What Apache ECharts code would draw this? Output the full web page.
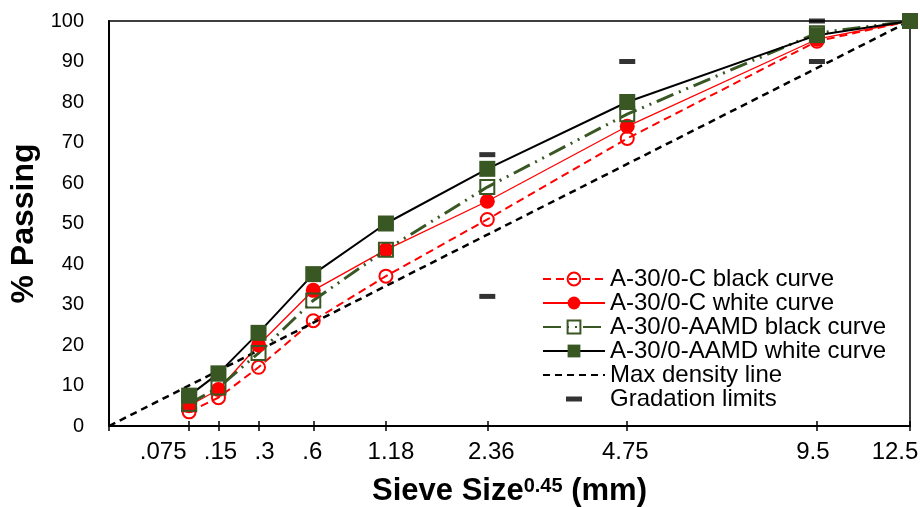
<!DOCTYPE html>
<html><head><meta charset="utf-8">
<script src="https://cdn.jsdelivr.net/npm/echarts@6/dist/echarts.min.js"></script>
<style>html,body{margin:0;padding:0;background:#fff}#c{width:920px;height:507px}</style>
</head><body><div id="c"></div>
<script>
// ---- data ----
const sieveSizes = [0.075, 0.15, 0.3, 0.6, 1.18, 2.36, 4.75, 9.5, 12.5];
const sieveLabels = ['.075', '.15', '.3', '.6', '1.18', '2.36', '4.75', '9.5', '12.5'];
const cBlack    = [3.5, 7, 14.5, 26, 37, 51, 71, 95, 100];
const cWhite    = [5, 9, 20, 33.5, 43.5, 55.5, 74, 95.5, 100];
const aamdBlack = [5.5, 9.5, 18, 31, 43.5, 59, 77, 97, 100];
const aamdWhite = [7.5, 13, 23, 37.5, 50, 63.5, 80, 96.5, 100];
const maxDensitySizes  = [0, 12.5];
const maxDensityValues = [0, 100];
const limitSizes  = [0.075, 0.075, 2.36, 2.36, 4.75, 9.5, 9.5, 12.5];
const limitValues = [8, 4, 67, 32, 90, 100, 90, 100];
const seriesNames = ['A-30/0-C black curve', 'A-30/0-C white curve', 'A-30/0-AAMD black curve',
  'A-30/0-AAMD white curve', 'Max density line', 'Gradation limits'];

// ---- styling ----
const EXP = 0.45;
const labelShift = [-26, 2, 6, -1, 5, 4, -2, -4, -15];
const RED = '#FF0000', GREEN = '#385723';
const FONT = "'Liberation Sans',Arial,sans-serif";
const tx = s => Math.pow(s, EXP);
const xs = sieveSizes.map(tx);
const xMax = tx(sieveSizes[sieveSizes.length - 1]);
const pair = (sizes, vals) => sizes.map((s, i) => [tx(s), vals[i]]);

const rich = {};
labelShift.forEach((d, i) => {
  rich['s' + i] = {
    fontSize: 24, fontFamily: FONT,
    color: '#000', padding: d > 0 ? [0, 0, 0, 2 * d] : [0, -2 * d, 0, 0]
  };
});

const chart = echarts.init(document.getElementById('c'), null, {renderer: 'canvas'});
const option = {
  animation: false,
  backgroundColor: '#fff',
  grid: {left: 109, right: 10, top: 21, bottom: 81, containLabel: false, outerBoundsMode: 'none',
    show: true, borderColor: '#000', borderWidth: 1.5, backgroundColor: 'transparent'},
  legend: {
    orient: 'vertical', left: 537, top: 262, itemWidth: 62, itemHeight: 16, itemGap: 0,
    selectedMode: false,
    textStyle: {fontSize: 24, lineHeight: 24, color: '#000', fontFamily: FONT},
    data: [
      {name: seriesNames[0]}, {name: seriesNames[1]}, {name: seriesNames[2]}, {name: seriesNames[3]},
      {name: seriesNames[4]},
      {name: seriesNames[5], icon: 'path://M0,0L0.01,0M62,16L61.99,16M23,5.5L39,5.5L39,10.5L23,10.5Z'}
    ]
  },
  xAxis: [{
    type: 'value', min: 0, max: xMax, position: 'bottom',
    axisLine: {show: true, lineStyle: {color: '#000', width: 2}},
    axisTick: {show: true, inside: false, length: 5, lineStyle: {color: '#000', width: 1.5}, customValues: [0].concat(xs)},
    axisLabel: {
      show: true, margin: 14, customValues: xs,
      formatter: v => {
        const i = xs.findIndex(x => Math.abs(x - v) < 1e-6);
        return i < 0 ? '' : '{s' + i + '|' + sieveLabels[i] + '}';
      },
      rich: rich
    },
    splitLine: {show: false},
    name: '{m|Sieve Size}{p|0.45}{m| (mm)}', nameLocation: 'middle', nameGap: 50,
    nameTextStyle: {
      rich: {
        m: {fontSize: 31, fontWeight: 'bold', color: '#000', fontFamily: FONT},
        p: {fontSize: 20, fontWeight: 'bold', color: '#000', verticalAlign: 'top', padding: [0, 0, 10, 0], fontFamily: FONT}
      }
    }
  }, {
    type: 'value', min: 0, max: xMax, position: 'bottom',
    axisLine: {show: false},
    axisTick: {show: true, inside: true, length: 5, lineStyle: {color: '#000', width: 1.5}, customValues: [0].concat(xs)},
    axisLabel: {show: false}, splitLine: {show: false}
  }],
  yAxis: {
    type: 'value', min: 0, max: 100, interval: 10,
    axisLine: {show: true, lineStyle: {color: '#000', width: 2}},
    axisTick: {show: false},
    axisLabel: {fontSize: 20, color: '#000', margin: 25, fontFamily: FONT},
    splitLine: {show: false},
    name: '% Passing', nameLocation: 'middle', nameGap: 61, nameRotate: 90,
    nameTextStyle: {fontSize: 32, fontWeight: 'bold', color: '#000', fontFamily: FONT}
  },
  series: [
    {
      name: seriesNames[0], type: 'line', data: pair(sieveSizes, cBlack), clip: false,
      symbol: 'circle', symbolSize: 13,
      itemStyle: {color: 'rgba(255,255,255,0)', borderColor: RED, borderWidth: 2},
      lineStyle: {color: RED, width: 2, type: [8, 5]}
    },
    {
      name: seriesNames[1], type: 'line', data: pair(sieveSizes, cWhite), clip: false,
      symbol: 'circle', symbolSize: 15,
      itemStyle: {color: RED, borderWidth: 0},
      lineStyle: {color: RED, width: 1.3}
    },
    {
      name: seriesNames[2], type: 'line', data: pair(sieveSizes, aamdBlack), clip: false,
      symbol: 'rect', symbolSize: 14,
      itemStyle: {color: 'rgba(255,255,255,0)', borderColor: GREEN, borderWidth: 2},
      lineStyle: {color: GREEN, width: 3, type: [18, 6, 2, 6, 2, 6]}
    },
    {
      name: seriesNames[3], type: 'line', data: pair(sieveSizes, aamdWhite), clip: false,
      symbol: 'rect', symbolSize: 16,
      itemStyle: {color: GREEN, borderWidth: 0},
      lineStyle: {color: '#000', width: 2}
    },
    {
      name: seriesNames[4], type: 'line', data: pair(maxDensitySizes, maxDensityValues), clip: false,
      symbol: 'none',
      itemStyle: {color: 'rgba(0,0,0,0)'},
      lineStyle: {color: '#000', width: 2.5, type: [7, 5]}
    },
    {
      name: seriesNames[5], type: 'scatter', data: pair(limitSizes, limitValues), clip: false,
      symbol: 'rect', symbolSize: [16, 5],
      itemStyle: {color: '#000'}
    }
  ]
};
chart.setOption(option);
</script></body></html>
